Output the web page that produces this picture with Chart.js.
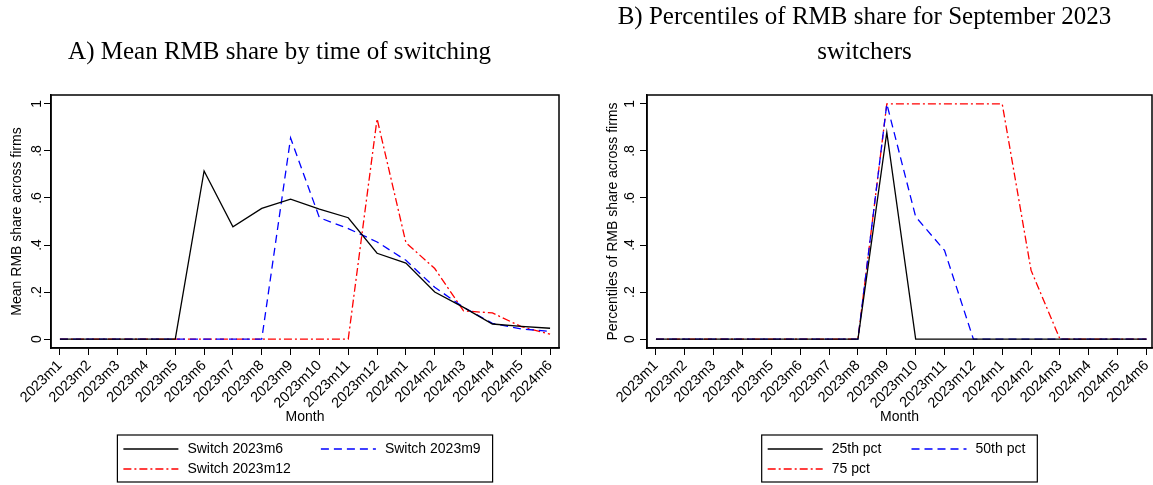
<!DOCTYPE html>
<html>
<head>
<meta charset="utf-8">
<script src="https://cdn.jsdelivr.net/npm/chart.js@4.4.0/dist/chart.umd.min.js"></script>
<style>
html, body { margin: 0; padding: 0; background: #fff; width: 1153px; height: 485px; overflow: hidden; }
#boxA { position: absolute; left: 0; top: 0; width: 568px; height: 485px; }
#boxB { position: absolute; left: 577px; top: 0; width: 600px; height: 485px; }
</style>
</head>
<body>
<div id="boxA"><canvas id="chartA"></canvas></div>
<div id="boxB"><canvas id="chartB"></canvas></div>
<script>
// months on the x axis
const months = ['2023m1','2023m2','2023m3','2023m4','2023m5','2023m6','2023m7','2023m8','2023m9',
                '2023m10','2023m11','2023m12','2024m1','2024m2','2024m3','2024m4','2024m5','2024m6']
const yTicks = [0, 0.2, 0.4, 0.6, 0.8, 1]
const yTickLabels = ['0', '.2', '.4', '.6', '.8', '1']

// panel A: mean RMB share by switch date
const switch2023m6  = [0,0,0,0,0,0.715,0.477,0.556,0.595,0.553,0.516,0.365,0.323,0.200,0.135,0.064,0.054,0.046]
const switch2023m9  = [0,0,0,0,0,0,0,0,0.855,0.516,0.470,0.413,0.335,0.220,0.135,0.067,0.043,0.033]
const switch2023m12 = [0,0,0,0,0,0,0,0,0,0,0,0.937,0.410,0.300,0.120,0.111,0.053,0.021]

// panel B: percentiles for September 2023 switchers
const pct25 = [0,0,0,0,0,0,0,0,0.879,0,0,0,0,0,0,0,0,0]
const pct50 = [0,0,0,0,0,0,0,0,1,0.520,0.377,0,0,0,0,0,0,0]
const pct75 = [0,0,0,0,0,0,0,0,1,1,1,1,1,0.292,0,0,0,0]

const sans = 'Liberation Sans'
const serif = 'Liberation Serif'

const toPoints = arr => arr.map((v, i) => ({x: i, y: v}))

// box around the plot region
const frame = {
    id: 'frame',
    afterDraw(chart) {
        const {ctx, chartArea: {left, top, right, bottom}} = chart
        ctx.save()
        ctx.strokeStyle = '#000'
        ctx.lineWidth = 1.5
        ctx.strokeRect(left, top, right - left, bottom - top)
        ctx.restore()
    }
}

// stata-like boxed legend, two columns
const boxLegend = {
    id: 'boxLegend',
    afterDraw(chart, args, opts) {
        const {ctx, chartArea} = chart
        const sets = chart.data.datasets
        ctx.save()
        ctx.font = '14px "' + sans + '"'
        const sample = 55, gapText = 9, padL = 6, padR = 12, colGap = 30, rowH = 20
        const tw = sets.map(d => ctx.measureText(d.label).width)
        const col1 = Math.max(tw[0], tw[2])
        const col2 = tw[1]
        const w = padL + sample + gapText + col1 + colGap + sample + gapText + col2 + padR
        const left = (chartArea.left + chartArea.right) / 2 - w / 2
        const top = opts.top
        ctx.strokeStyle = '#000'
        ctx.lineWidth = 1.2
        ctx.strokeRect(left, top, w, 47)
        sets.forEach((d, i) => {
            const col = i % 2, row = Math.floor(i / 2)
            const x = left + padL + (col ? sample + gapText + col1 + colGap : 0)
            const y = top + 14 + row * rowH
            ctx.setLineDash(d.borderDash || [])
            ctx.strokeStyle = d.borderColor
            ctx.lineWidth = d.borderWidth
            ctx.beginPath()
            ctx.moveTo(x, y)
            ctx.lineTo(x + sample, y)
            ctx.stroke()
            ctx.setLineDash([])
            ctx.fillStyle = '#000'
            ctx.textBaseline = 'middle'
            ctx.textAlign = 'left'
            ctx.fillText(d.label, x + sample + gapText, y)
        })
        ctx.restore()
    }
}

function makeSets(labels, series) {
    const styles = [
        {borderColor: '#000000', borderDash: []},
        {borderColor: '#0000ff', borderDash: [8, 5]},
        {borderColor: '#ff0000', borderDash: [8, 3, 2, 3]},
    ]
    return series.map((s, i) => ({
        label: labels[i],
        data: toPoints(s),
        borderColor: styles[i].borderColor,
        borderDash: styles[i].borderDash,
        borderWidth: 1.3,
        pointRadius: 0,
        tension: 0,
        fill: false,
    }))
}

function makeChart(id, cfg) {
    return new Chart(document.getElementById(id), {
        type: 'line',
        data: {datasets: makeSets(cfg.labels, cfg.series)},
        options: {
            responsive: true,
            maintainAspectRatio: false,
            animation: false,
            layout: {padding: {top: 0, left: 0, bottom: 0, right: cfg.padRight}},
            plugins: {
                legend: {display: false},
                tooltip: {enabled: false},
                title: {
                    display: true,
                    text: cfg.title,
                    color: '#000',
                    font: {family: serif, size: 25, weight: 'normal', lineHeight: 35 / 25},
                    padding: {top: cfg.titleTop, bottom: 25},
                },
                boxLegend: {top: 435},
            },
            scales: {
                x: {
                    type: 'linear',
                    min: -0.31,
                    max: cfg.xMax,
                    afterBuildTicks: s => { s.ticks = months.map((m, i) => ({value: i})) },
                    afterFit: s => { s.height = 137 },
                    ticks: {
                        autoSkip: false,
                        minRotation: 45,
                        maxRotation: 45,
                        padding: 2,
                        color: '#000',
                        font: {family: sans, size: 14.5},
                        callback: v => months[v],
                    },
                    grid: {drawOnChartArea: false, drawTicks: true, tickLength: 7, color: '#000', lineWidth: 1},
                    border: {display: true, color: '#000', width: 1.5},
                    title: {
                        display: true,
                        text: 'Month',
                        color: '#000',
                        font: {family: sans, size: 14},
                        padding: {top: 0, bottom: 59.6},
                    },
                },
                y: {
                    min: -0.038,
                    max: 1.038,
                    afterBuildTicks: s => { s.ticks = yTicks.map(v => ({value: v})) },
                    afterFit: s => { s.width = cfg.yWidth },
                    ticks: {
                        minRotation: 90,
                        maxRotation: 90,
                        crossAlign: 'center',
                        padding: cfg.yTickPad,
                        color: '#000',
                        font: {family: sans, size: 14},
                        callback: v => yTickLabels[yTicks.indexOf(v)],
                    },
                    grid: {drawOnChartArea: false, drawTicks: true, tickLength: 7, color: '#000', lineWidth: 1},
                    border: {display: true, color: '#000', width: 1.5},
                    title: {
                        display: true,
                        text: cfg.yTitle,
                        color: '#000',
                        font: {family: sans, size: 14},
                        padding: {top: cfg.yTitlePad, bottom: 0},
                    },
                },
            },
        },
        plugins: [frame, boxLegend],
    })
}

const chartA = makeChart('chartA', {
    title: 'A) Mean RMB share by time of switching',
    titleTop: 35,
    labels: ['Switch 2023m6', 'Switch 2023m9', 'Switch 2023m12'],
    series: [switch2023m6, switch2023m9, switch2023m12],
    yTitle: 'Mean RMB share across firms',
    yWidth: 51,
    yTickPad: 1,
    yTitlePad: 8.6,
    padRight: 9,
    xMax: 17.31,
})

const chartB = makeChart('chartB', {
    title: ['B) Percentiles of RMB share for September 2023', 'switchers'],
    titleTop: 0,
    labels: ['25th pct', '50th pct', '75 pct'],
    series: [pct25, pct50, pct75],
    yTitle: 'Percentiles of RMB share across firms',
    yWidth: 70,
    yTickPad: 4,
    yTitlePad: 27.6,
    padRight: 25,
    xMax: 17.19,
})
</script>
</body>
</html>
